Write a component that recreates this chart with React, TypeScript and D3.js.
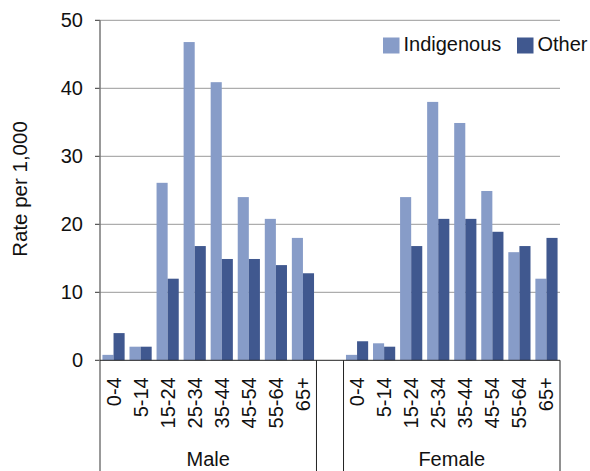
import React from "react";
import * as d3 from "d3";

const ageGroups = ["0-4", "5-14", "15-24", "25-34", "35-44", "45-54", "55-64", "65+"];
const sexes = ["Male", "Female"];
const maleIndigenous = [0.8, 2.0, 26.1, 46.8, 40.9, 24.0, 20.8, 18.0];
const maleOther = [4.0, 2.0, 12.0, 16.8, 14.9, 14.9, 14.0, 12.8];
const femaleIndigenous = [0.8, 2.5, 24.0, 38.0, 34.9, 24.9, 15.9, 12.0];
const femaleOther = [2.8, 2.0, 16.8, 20.8, 20.8, 18.9, 16.8, 18.0];
const seriesNames = ["Indigenous", "Other"];
const yTicks = [0, 10, 20, 30, 40, 50];

const W = 590, H = 471;
const left = 100, right = 560, top = 20.3, bottom = 360.3;
const colors = ["#879CC8", "#40588F"];
const font = "'Liberation Sans', Arial, sans-serif";
const fs = 20;

export default function App() {
  const slots: string[] = [];
  sexes.forEach((s, i) => {
    ageGroups.forEach((a) => slots.push(s + "|" + a));
    if (i === 0) slots.push("gap");
  });
  const x = d3.scaleBand<string>().domain(slots).range([left, right]).paddingInner(0).paddingOuter(0);
  const y = d3.scaleLinear().domain([0, 50]).range([bottom, top]);
  const bw = x.bandwidth();
  const barW = bw * 0.41;
  const offset = (bw - 2 * barW) / 2;

  const data = [
    { sex: "Male", vals: [maleIndigenous, maleOther] },
    { sex: "Female", vals: [femaleIndigenous, femaleOther] },
  ];

  const groupStart = (s: string) => x(s + "|" + ageGroups[0])!;
  const groupEnd = (s: string) => x(s + "|" + ageGroups[ageGroups.length - 1])! + bw;

  return (
    <svg width={W} height={H} style={{ position: "absolute", left: 0, top: 0, background: "#fff" }} fontFamily={font}>
      {yTicks.map((t) => (
        <g key={t}>
          {t > 0 && <line x1={left} x2={right} y1={y(t)} y2={y(t)} stroke="#999" strokeWidth={1} />}
          <line x1={left - 5} x2={left} y1={y(t)} y2={y(t)} stroke="#333" strokeWidth={1} />
          <text x={left - 17} y={y(t)} dy="0.35em" textAnchor="end" fontSize={fs} fill="#111">{t}</text>
        </g>
      ))}
      {data.map((d) =>
        ageGroups.map((a, i) =>
          d.vals.map((v, k) => (
            <rect key={d.sex + a + k} x={x(d.sex + "|" + a)! + offset + k * barW} width={barW}
              y={y(v[i])} height={y(0) - y(v[i])} fill={colors[k]} />
          ))
        )
      )}
      <line x1={left} x2={left} y1={top} y2={H} stroke="#777" strokeWidth={1.5} />
      <line x1={left} x2={right} y1={bottom} y2={bottom} stroke="#222" strokeWidth={1} />
      {sexes.map((s) => (
        <g key={s}>
          {s === "Female" && <line x1={groupStart(s)} x2={groupStart(s)} y1={bottom} y2={H} stroke="#222" />}
          <line x1={groupEnd(s)} x2={groupEnd(s)} y1={bottom} y2={H} stroke="#222" />
          {ageGroups.map((a) => (
            <text key={a} transform={`translate(${x(s + "|" + a)! + bw / 2},${bottom + 17}) rotate(-90)`}
              dy="0.35em" textAnchor="end" fontSize={fs} fill="#111">{a}</text>
          ))}
          <text x={(groupStart(s) + groupEnd(s)) / 2} y={466} textAnchor="middle" fontSize={fs} fill="#111">{s}</text>
        </g>
      ))}
      <text transform={`translate(27,189) rotate(-90)`} textAnchor="middle" fontSize={20.5} fill="#111">Rate per 1,000</text>
      {seriesNames.map((n, k) => {
        const lx = k === 0 ? 383 : 517;
        return (
          <g key={n}>
            <rect x={lx} y={37.5} width={16.5} height={16} fill={colors[k]} />
            <text x={lx + 20.5} y={51} fontSize={fs} fill="#111">{n}</text>
          </g>
        );
      })}
    </svg>
  );
}
